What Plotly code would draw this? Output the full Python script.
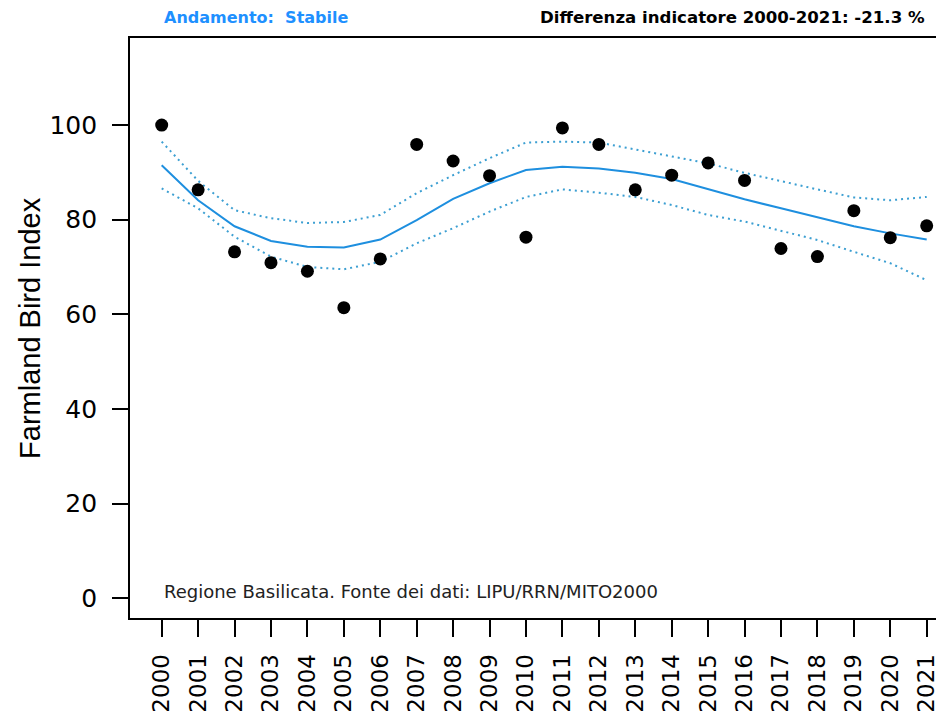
import plotly.graph_objects as go

years = list(range(2000, 2022))
index_values = [100.0, 86.3, 73.2, 70.9, 69.1, 61.4, 71.7, 95.9, 92.4, 89.3, 76.3,
                99.4, 95.9, 86.3, 89.4, 92.0, 88.3, 73.9, 72.2, 81.9, 76.2, 78.7]
trend = [91.5, 84.1, 78.6, 75.5, 74.3, 74.1, 75.8, 79.9, 84.4, 87.7, 90.5,
         91.2, 90.8, 89.9, 88.6, 86.4, 84.3, 82.4, 80.5, 78.6, 77.1, 75.8]
upper_ci = [96.5, 88.2, 82.0, 80.3, 79.3, 79.5, 81.0, 85.6, 89.4, 93.0, 96.3,
            96.5, 96.3, 94.8, 93.3, 91.9, 89.9, 88.1, 86.4, 84.7, 84.1, 84.8]
lower_ci = [86.6, 82.4, 76.4, 72.2, 70.0, 69.5, 71.1, 75.0, 78.2, 81.7, 84.8,
            86.4, 85.7, 84.8, 83.1, 81.0, 79.6, 77.7, 75.7, 73.2, 70.8, 67.2]
y_ticks = [0, 20, 40, 60, 80, 100]

title_left = "Andamento:  Stabile"
title_right = "Differenza indicatore 2000-2021: -21.3 %"
source_note = "Regione Basilicata. Fonte dei dati: LIPU/RRN/MITO2000"
y_title = "Farmland Bird Index"

line_col = "#1e8fdf"
ci_col = "#3c9fd2"

fig = go.Figure()
fig.add_trace(go.Scatter(x=years, y=upper_ci, mode="lines",
                         line=dict(color=ci_col, width=2, dash="2px,4px"), hoverinfo="skip"))
fig.add_trace(go.Scatter(x=years, y=lower_ci, mode="lines",
                         line=dict(color=ci_col, width=2, dash="2px,4px"), hoverinfo="skip"))
fig.add_trace(go.Scatter(x=years, y=trend, mode="lines",
                         line=dict(color=line_col, width=2)))
fig.add_trace(go.Scatter(x=years, y=index_values, mode="markers",
                         marker=dict(color="black", size=13), cliponaxis=False))

fig.update_layout(
    width=936, height=707,
    margin=dict(l=122, r=0, t=30, b=97, autoexpand=False),
    paper_bgcolor="white", plot_bgcolor="white",
    showlegend=False,
    font=dict(family="DejaVu Sans", color="black"),
    xaxis=dict(range=[1999.13, 2021.475], tickmode="array", tickvals=years,
               ticktext=[str(y) for y in years], tickangle=-90,
               ticks="outside", ticklen=17, tickwidth=1.5, tickcolor="black",
               showline=True, linecolor="black", linewidth=1.8, mirror=True,
               showgrid=False, zeroline=False, automargin=False,
               tickfont=dict(family="DejaVu Sans", size=23, color="black"),
               ticklabelstandoff=8),
    yaxis=dict(range=[-4.2, 118.4], tickmode="array", tickvals=y_ticks,
               ticks="outside", ticklen=16, tickwidth=1.5, tickcolor="black",
               showline=True, linecolor="black", linewidth=1.8, mirror=False,
               showgrid=False, zeroline=False, automargin=False,
               tickfont=dict(family="DejaVu Sans", size=25, color="black"),
               ticklabelstandoff=10),
)

fig.add_annotation(text="<b>" + title_left + "</b>", x=2000, xref="x", xanchor="left",
                   y=1.0345, yref="paper", yanchor="middle", showarrow=False,
                   font=dict(family="DejaVu Sans", size=16, color="#1e90ff"))
fig.add_annotation(text="<b>" + title_right + "</b>", x=2021, xref="x", xanchor="right",
                   y=1.0345, yref="paper", yanchor="middle", showarrow=False,
                   font=dict(family="DejaVu Sans", size=16.6, color="black"))
fig.add_annotation(text=source_note, x=2000, xref="x", xanchor="left",
                   y=1.3, yref="y", yanchor="middle", showarrow=False,
                   font=dict(family="DejaVu Sans", size=18, color="#222222"))
fig.add_annotation(text=y_title, x=-0.1229, xref="paper", xanchor="center",
                   y=0.5, yref="paper", yanchor="middle", textangle=-90, showarrow=False,
                   font=dict(family="Liberation Sans", size=29, color="black"))

fig.write_html("out.html")
